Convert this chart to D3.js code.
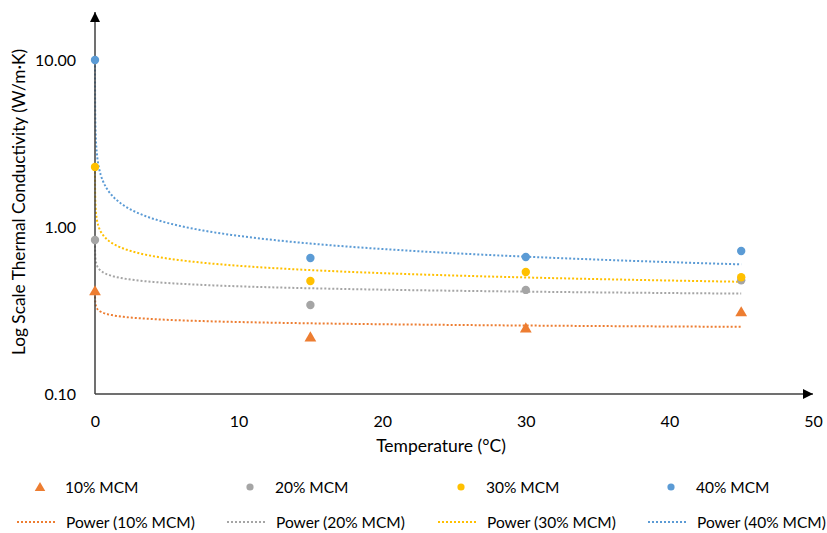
<!DOCTYPE html>
<html>
<head>
<meta charset="utf-8">
<script src="https://cdn.jsdelivr.net/npm/d3@7/dist/d3.min.js"></script>
<style>
  body { margin: 0; background: #fff; }
  text { font-family: Lato, "Open Sans", sans-serif; fill: #000; }
</style>
</head>
<body>
<div id="chart"></div>
<script>
// temperatures (°C); 0 is fitted as 0.001 because a power fit needs x > 0
var temps = [0, 15, 30, 45];
var fitZero = 0.001;

var seriesNames = ["10% MCM", "20% MCM", "30% MCM", "40% MCM"];
var mcm10 = [0.414, 0.219, 0.248, 0.310];
var mcm20 = [0.836, 0.341, 0.420, 0.480];
var mcm30 = [2.29, 0.475, 0.538, 0.500];
var mcm40 = [10.0, 0.652, 0.661, 0.718];
var colors = ["#ED7D31", "#A5A5A5", "#FFC000", "#5B9BD5"];
var shapes = ["triangle", "circle", "circle", "circle"];

var xTicks = [0, 10, 20, 30, 40, 50];
var yTicks = [0.1, 1, 10];

var width = 827, height = 533;
var svg = d3.select("#chart").append("svg")
  .attr("width", width)
  .attr("height", height);

var x = d3.scaleLinear().domain([0, 50]).range([95, 813]);
var y = d3.scaleLog().domain([0.1, 10]).range([394, 60]);

var series = [mcm10, mcm20, mcm30, mcm40].map(function(vals, i) {
  return {
    name: seriesNames[i],
    color: colors[i],
    shape: shapes[i],
    points: vals.map(function(v, j) { return { t: temps[j], v: v }; })
  };
});

// least squares in log-log space, like a spreadsheet power trendline
function powerFit(points) {
  var lx = points.map(function(p) { return Math.log(p.t > 0 ? p.t : fitZero); });
  var ly = points.map(function(p) { return Math.log(p.v); });
  var mx = d3.mean(lx), my = d3.mean(ly);
  var sxy = 0, sxx = 0;
  for (var i = 0; i < lx.length; i++) {
    sxy += (lx[i] - mx) * (ly[i] - my);
    sxx += (lx[i] - mx) * (lx[i] - mx);
  }
  var b = sxy / sxx;
  var a = Math.exp(my - b * mx);
  return function(t) { return a * Math.pow(t, b); };
}

var tMax = d3.max(temps);
var samples = d3.range(0, 121).map(function(i) { return fitZero * Math.pow(tMax / fitZero, i / 120); })
  .concat(d3.range(1, 91).map(function(i) { return tMax * i / 90; }));
samples.sort(function(a, b) { return a - b; });

var line = d3.line()
  .x(function(d) { return x(d.t); })
  .y(function(d) { return y(d.v); });

// axes (labels only, lines drawn with arrows)
var yAxis = d3.axisLeft(y).tickValues(yTicks).tickSize(0).tickPadding(19)
  .tickFormat(d3.format(".2f"));
svg.append("g").attr("transform", "translate(95,0)").call(yAxis)
  .call(function(g) { g.select(".domain").remove(); })
  .selectAll("text").style("font-size", "16px").style("font-family", "Lato, sans-serif").attr("fill", "#000");

var xAxis = d3.axisBottom(x).tickValues(xTicks).tickSize(0).tickPadding(22)
  .tickFormat(d3.format("d"));
svg.append("g").attr("transform", "translate(0,394)").call(xAxis)
  .call(function(g) { g.select(".domain").remove(); })
  .selectAll("text").style("font-size", "16px").style("font-family", "Lato, sans-serif").attr("fill", "#000");

var defs = svg.append("defs");
defs.append("marker")
  .attr("id", "arrow")
  .attr("viewBox", "0 0 10 10")
  .attr("refX", 10).attr("refY", 5)
  .attr("markerWidth", 10).attr("markerHeight", 10)
  .attr("markerUnits", "userSpaceOnUse")
  .attr("orient", "auto")
  .append("path").attr("d", "M0,0L10,5L0,10Z").attr("fill", "#000");

// trendlines
series.forEach(function(s) {
  var f = powerFit(s.points);
  var pts = samples.map(function(t) { return { t: t, v: f(t) }; });
  svg.append("path")
    .datum(pts)
    .attr("d", line)
    .attr("fill", "none")
    .attr("stroke", s.color)
    .attr("stroke-width", 2)
    .attr("stroke-dasharray", "2,2");
});

svg.append("line")
  .attr("x1", x(0)).attr("y1", y(0.1))
  .attr("x2", x(0)).attr("y2", 12)
  .attr("stroke", "#404040").attr("stroke-width", 1.5)
  .attr("marker-end", "url(#arrow)");
svg.append("line")
  .attr("x1", x(0)).attr("y1", y(0.1))
  .attr("x2", x(50)).attr("y2", y(0.1))
  .attr("stroke", "#404040").attr("stroke-width", 1.5)
  .attr("marker-end", "url(#arrow)");

var tri = d3.symbol().type(d3.symbolTriangle);
function drawMarker(g, s, cx, cy, big) {
  if (s.shape === "triangle") {
    g.append("path")
      .attr("d", tri.size(big ? 60 : 48)())
      .attr("transform", "translate(" + cx + "," + (cy + 1) + ")")
      .attr("fill", s.color);
  } else {
    g.append("circle")
      .attr("cx", cx).attr("cy", cy)
      .attr("r", big ? 4.2 : 3.6)
      .attr("fill", s.color);
  }
}

var pointLayer = svg.append("g");
series.forEach(function(s) {
  s.points.forEach(function(p) {
    drawMarker(pointLayer, s, x(p.t), y(p.v), true);
  });
});

// axis titles
svg.append("text")
  .attr("x", 441).attr("y", 452)
  .attr("text-anchor", "middle")
  .style("font-size", "17.5px")
  .text("Temperature (°C)");

svg.append("text")
  .attr("transform", "translate(25,202) rotate(-90)")
  .attr("text-anchor", "middle")
  .style("font-size", "17.3px")
  .text("Log Scale Thermal Conductivity (W/m·K)");

// legend
var legendX = [17, 227, 438, 648];
var legend = svg.append("g");
series.forEach(function(s, i) {
  var lx = legendX[i];
  drawMarker(legend, s, lx + 23, 487, false);
  legend.append("text")
    .attr("x", lx + 48).attr("y", 493)
    .style("font-size", "15.5px")
    .text(s.name);
  legend.append("line")
    .attr("x1", lx).attr("x2", lx + 40)
    .attr("y1", 522).attr("y2", 522)
    .attr("stroke", s.color)
    .attr("stroke-width", 2)
    .attr("stroke-dasharray", "2,2");
  legend.append("text")
    .attr("x", lx + 49).attr("y", 528)
    .style("font-size", "15.5px")
    .text("Power (" + s.name + ")");
});
</script>
</body>
</html>
